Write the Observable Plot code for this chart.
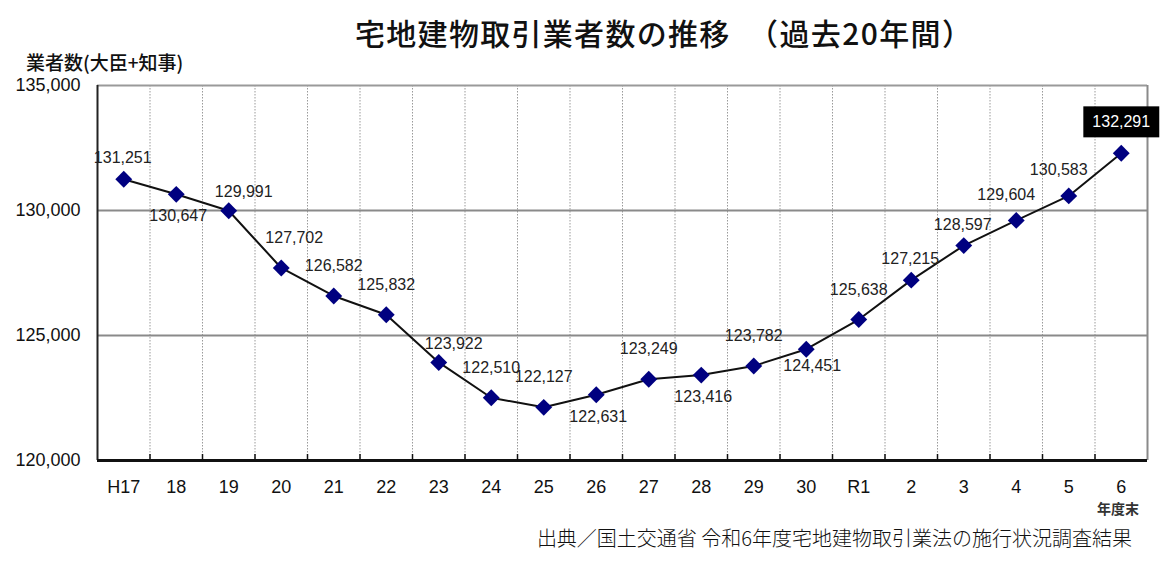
<!DOCTYPE html>
<html lang="ja">
<head>
<meta charset="utf-8">
<script src="https://cdn.jsdelivr.net/npm/d3@7"></script>
<script src="https://cdn.jsdelivr.net/npm/@observablehq/plot@0.6"></script>
<style>
  html, body { margin: 0; padding: 0; background: #fff; }
  #wrap { position: relative; width: 1166px; height: 566px; overflow: hidden; }
  #chart { position: absolute; left: 0; top: 0; }
  .ovl { position: absolute; white-space: pre; line-height: 1; color: #111; }
  #title1 { left: 355px; top: 10px; font: 500 30px "Noto Sans CJK JP", sans-serif; letter-spacing: 1.3px; }
  #title2 { left: 748px; top: 10px; font: 500 30px "Noto Sans CJK JP", sans-serif; letter-spacing: 1.4px; }
  #ylabel { left: 26px; top: 48px; font: 500 19px "Noto Sans CJK JP", sans-serif; }
  #unit { left: 1097px; top: 498px; font: 700 14px "Noto Sans CJK JP", sans-serif; color: #333; }
  #caption { right: 34px; top: 523px; font: 300 20px "Noto Sans CJK JP", sans-serif; color: #111; }
</style>
</head>
<body>
<div id="wrap">
  <div id="chart"></div>
  <div class="ovl" id="title1">宅地建物取引業者数の推移</div>
  <div class="ovl" id="title2">（過去20年間）</div>
  <div class="ovl" id="ylabel">業者数(大臣+知事)</div>
  <div class="ovl" id="unit">年度末</div>
  <div class="ovl" id="caption">出典／国土交通省 令和6年度宅地建物取引業法の施行状況調査結果</div>
</div>
<script>
const categories = ["H17","18","19","20","21","22","23","24","25","26","27","28","29","30","R1","2","3","4","5","6"];
const values = [131251,130647,129991,127702,126582,125832,123922,122510,122127,122631,123249,123416,123782,124451,125638,127215,128597,129604,130583,132291];
const labelPlacement = ["aboveNear","below","aboveRight","aboveRightHigh","above","above","aboveRight","above","above","below","above","below","above","belowRight","above","aboveNear","aboveNear","aboveLeft","aboveLeft","box"];
const yTicks = [120000,125000,130000,135000];

const placeOffsets = {
  above: [0, -30],
  aboveNear: [-1, -21],
  aboveRight: [15, -19],
  aboveRightHigh: [13, -30],
  below: [2, 22],
  belowRight: [6, 17],
  aboveLeft: [-10, -26],
  box: [0, -31]
};

const data = categories.map((c, i) => ({i, cat: c, value: values[i], place: labelPlacement[i]}));
const bounds = d3.range(0.5, categories.length - 1, 1);
const fmt = d3.format(",");
const numFont = "'Liberation Sans', Arial, sans-serif";
const highlightText = fmt(values[values.length - 1]);

const labelMarks = Object.entries(placeOffsets).map(([key, [dx, dy]]) =>
  Plot.text(data.filter(d => d.place === key), {
    x: "i", y: "value", text: d => fmt(d.value), dx, dy,
    fontSize: 16, fontFamily: numFont,
    fill: key === "box" ? "#fff" : "#222"
  })
);

const plot = Plot.plot({
  width: 1166,
  height: 566,
  marginTop: 85,
  marginBottom: 106,
  marginLeft: 97,
  marginRight: 19,
  style: {fontFamily: numFont, fontSize: "18px", color: "#111", background: "transparent"},
  x: {type: "linear", domain: [-0.5, categories.length - 0.5], label: null},
  y: {domain: [120000, 135000], label: null},
  marks: [
    Plot.ruleX(bounds, {stroke: "#9a9a9a", strokeWidth: 1, strokeDasharray: "1.5,1.5"}),
    Plot.ruleY([125000, 130000], {stroke: "#8a8a8a", strokeWidth: 2}),
    Plot.ruleY([135000], {stroke: "#9a9a9a", strokeWidth: 2}),
    Plot.ruleX([categories.length - 0.5], {stroke: "#8a8a8a", strokeWidth: 2}),
    Plot.ruleX([-0.5], {stroke: "#222", strokeWidth: 2}),
    Plot.ruleY([120000], {stroke: "#111", strokeWidth: 3}),
    Plot.axisX({ticks: bounds, tickSize: 6, dy: -6, tickFormat: () => "", label: null, stroke: "#111", strokeWidth: 1.5}),
    Plot.axisX({ticks: d3.range(categories.length), tickFormat: i => categories[i], label: null, tickSize: 0, tickPadding: 20, fontSize: 18, fill: "#111"}),
    Plot.axisY({ticks: yTicks, tickFormat: fmt, label: null, tickSize: 0, tickPadding: 17, fontSize: 18, fill: "#111"}),
    Plot.line(data, {x: "i", y: "value", stroke: "#111", strokeWidth: 2}),
    Plot.dot(data, {x: "i", y: "value", symbol: "diamond2", r: 7.6, fill: "#000080", stroke: "none"}),
    ...labelMarks
  ]
});

document.getElementById("chart").appendChild(plot);

// black box behind the highlighted (latest) value
const svgRect = plot.getBoundingClientRect();
plot.querySelectorAll("text").forEach(t => {
  if (t.textContent !== highlightText || t.getAttribute("fill") !== "#fff" && t.parentNode.getAttribute("fill") !== "#fff") return;
  const b = t.getBoundingClientRect();
  const padX = 9, padY = 7;
  const rect = document.createElementNS("http://www.w3.org/2000/svg", "rect");
  rect.setAttribute("x", b.left - svgRect.left - padX);
  rect.setAttribute("y", b.top - svgRect.top - padY);
  rect.setAttribute("width", b.width + 2 * padX);
  rect.setAttribute("height", b.height + 2 * padY);
  rect.setAttribute("fill", "#000");
  const g = t.parentNode;
  g.parentNode.insertBefore(rect, g);
});
</script>
</body>
</html>
